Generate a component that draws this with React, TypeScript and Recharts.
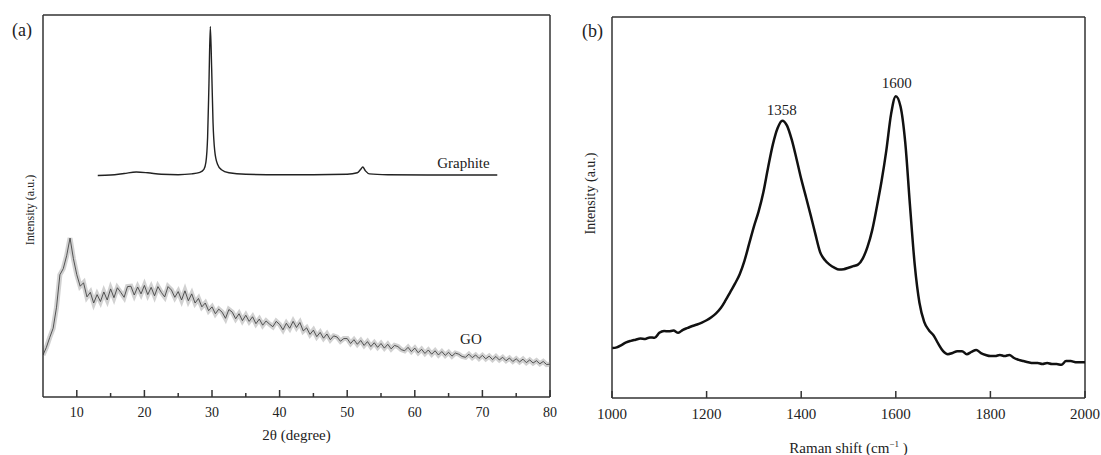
import { LineChart, Line, XAxis, YAxis, ReferenceLine, ReferenceDot } from "recharts";

const FONT = "'Liberation Serif', 'Times New Roman', serif";
const INK = "#222";
const AXIS = "#333";

// (a) XRD, 2θ in degrees
const xrdTicks = [10, 15, 20, 25, 30, 35, 40, 45, 50, 55, 60, 65, 70, 75, 80];
const goStart = 5;
const goStep = 0.5;
const goIntensity = [
  11.0, 13.0, 15.6, 18.0, 23.5, 32.0, 33.6, 37.0, 41.6, 36.2,
  32.0, 29.0, 29.9, 26.2, 27.4, 24.6, 26.8, 25.0, 27.5, 25.4,
  28.3, 26.0, 28.6, 27.4, 26.1, 28.9, 29.0, 26.7, 28.8, 27.0,
  29.2, 26.8, 28.7, 26.5, 28.9, 27.4, 26.2, 28.9, 28.0, 26.1,
  27.6, 25.4, 27.8, 25.2, 27.0, 24.6, 25.8, 23.6, 24.6, 22.6,
  23.6, 21.8, 23.0, 22.2, 20.6, 22.9, 22.2, 20.5, 21.8, 20.0,
  21.4, 19.8, 21.0, 19.2, 20.4, 18.8, 19.9, 19.1, 18.4, 19.8,
  19.0, 17.6, 19.3, 18.0, 19.8, 18.2, 19.5, 17.3, 18.1, 16.4,
  17.5, 15.8, 16.9, 15.4, 16.5, 15.0, 16.0, 15.7, 14.6, 15.3,
  15.3, 14.0, 15.0, 13.8, 14.8, 13.5, 14.5, 13.2, 14.2, 13.0,
  14.0, 12.8, 13.8, 12.6, 13.5, 13.2, 12.4, 12.1, 13.0, 11.9,
  12.8, 11.6, 12.5, 11.4, 12.3, 11.2, 12.1, 11.0, 11.9, 10.9,
  11.7, 10.7, 11.5, 11.2, 10.6, 10.4, 11.2, 10.3, 11.0, 10.1,
  10.9, 10.0, 10.7, 9.8, 10.6, 9.7, 10.4, 9.5, 10.2, 9.3,
  10.0, 9.2, 9.9, 9.0, 9.7, 8.9, 9.5, 8.7, 9.3, 8.5,
  8.6,
];
const graphiteAngle = [
  13.1, 15, 17, 18.8, 20.5, 22.5, 25, 27, 28.2, 28.8, 29.1, 29.35, 29.55, 29.75,
  29.95, 30.15, 30.4, 30.8, 31.4, 32.5, 35, 40, 45, 50, 51.5, 52.0, 52.3, 52.7,
  53.3, 56, 62, 68, 72.2,
];
const graphiteIntensity = [
  58.0, 58.1, 58.5, 58.9, 58.7, 58.3, 58.2, 58.4, 58.8, 59.6, 61.5, 68, 82, 97,
  86, 72, 64.5, 61, 59.5, 58.7, 58.3, 58.2, 58.2, 58.3, 58.7, 59.6, 60.2, 59.2,
  58.4, 58.2, 58.1, 58.1, 58.1,
];

// (b) Raman, shift in cm-1
const ramanTicks = [1000, 1200, 1400, 1600, 1800, 2000];
const ramanStart = 1000;
const ramanStep = 10;
const ramanIntensity = [
  13.1, 13.3, 13.9, 14.6, 15.0, 15.3, 15.6, 15.5, 15.9, 15.8,
  17.1, 17.6, 17.5, 17.7, 17.1, 17.9, 18.4, 18.9, 19.3, 19.8,
  20.4, 21.2, 22.2, 23.6, 25.6, 27.8, 30.0, 32.5, 36.0, 40.5,
  45.0, 49.0, 54.0, 60.5, 66.5, 70.8, 72.8, 71.5, 67.8, 62.8,
  57.5, 52.8, 48.0, 43.0, 38.3, 36.2, 35.0, 34.2, 33.7, 33.8,
  34.2, 34.6, 35.0, 36.6, 39.6, 44.0, 50.2, 57.0, 65.0, 74.5,
  79.2, 76.5, 67.0, 50.5, 35.0, 25.0, 20.0, 17.8, 16.4, 14.2,
  12.3, 11.5, 11.8, 12.3, 12.3, 11.5, 12.1, 12.6, 11.8, 11.3,
  11.0, 11.0, 11.3, 11.0, 11.3, 10.5, 10.0, 9.7, 9.4, 9.2,
  9.2, 8.9, 9.2, 8.9, 8.9, 8.7, 9.7, 9.7, 9.4, 9.4,
  9.4,
];

const goData = goIntensity.map((y, i) => ({ x: goStart + i * goStep, y }));
const graphiteData = graphiteAngle.map((x, i) => ({ x, y: graphiteIntensity[i] }));
const ramanData = ramanIntensity.map((y, i) => ({ x: ramanStart + i * ramanStep, y }));

const serif = { fontFamily: FONT };

function XrdTick({ x, y, payload }: any) {
  const major = payload.value % 10 === 0;
  return (
    <g>
      <line x1={x} x2={x} y1={y} y2={y - (major ? 7 : 4)} stroke={AXIS} strokeWidth={1.5} />
      {major && (
        <text x={x} y={y + 20} textAnchor="middle" fontSize={14} fill={INK} style={serif}>
          {payload.value}
        </text>
      )}
    </g>
  );
}

function RamanTick({ x, y, payload }: any) {
  return (
    <g>
      <line x1={x} x2={x} y1={y} y2={y - 7} stroke={AXIS} strokeWidth={1.5} />
      <text x={x} y={y + 21} textAnchor="middle" fontSize={15} fill={INK} style={serif}>
        {payload.value}
      </text>
    </g>
  );
}

// rotated y title, placed relative to the plot's left edge
const yTitle = (dx: number, dy: number, size: number) => (props: any) => {
  const vb = props.viewBox;
  const cx = vb.x + vb.width + dx;
  const cy = vb.y + vb.height / 2 + dy;
  return (
    <text
      x={cx}
      y={cy}
      transform={`rotate(-90 ${cx} ${cy})`}
      textAnchor="middle"
      dominantBaseline="central"
      fontSize={size}
      fill={INK}
      style={serif}
    >
      Intensity (a.u.)
    </text>
  );
};

const xrdTitle = (props: any) => {
  const vb = props.viewBox;
  return (
    <text x={vb.x + vb.width / 2} y={vb.y + 43} textAnchor="middle" fontSize={15} fill={INK} style={serif}>
      2θ (degree)
    </text>
  );
};

const ramanTitle = (props: any) => {
  const vb = props.viewBox;
  return (
    <text x={vb.x + vb.width / 2} y={vb.y + 55} textAnchor="middle" fontSize={15} fill={INK} style={serif}>
      Raman shift (cm
      <tspan dy={-6} fontSize={9}>−1</tspan>
      <tspan dy={6}> )</tspan>
    </text>
  );
};

const note = (value: string) => ({
  value,
  position: "center" as const,
  fontSize: 15,
  fill: INK,
  style: serif,
});

export default function App() {
  return (
    <div
      style={{
        position: "absolute",
        left: 0,
        top: 0,
        width: 1101,
        height: 455,
        background: "#fff",
        fontFamily: FONT,
        color: INK,
      }}
    >
      <div style={{ position: "absolute", left: 0, top: 0 }}>
        <LineChart width={560} height={455} margin={{ top: 15, right: 10, bottom: 28, left: 23 }}>
          <XAxis
            dataKey="x"
            type="number"
            domain={[5, 80]}
            ticks={xrdTicks}
            interval={0}
            height={30}
            tickSize={0}
            tickMargin={0}
            tickLine={false}
            tick={<XrdTick />}
            axisLine={{ stroke: AXIS, strokeWidth: 1.5 }}
            label={xrdTitle}
            allowDataOverflow
          />
          <YAxis
            type="number"
            domain={[0, 100]}
            width={20}
            tick={false}
            tickLine={false}
            axisLine={{ stroke: AXIS, strokeWidth: 1.5 }}
            label={yTitle(-13, 4, 12)}
            allowDataOverflow
          />
          <ReferenceLine y={100} stroke={AXIS} strokeWidth={1.5} />
          <ReferenceLine x={80} stroke={AXIS} strokeWidth={1.5} />
          <Line
            data={goData}
            dataKey="y"
            type="linear"
            stroke="#999"
            strokeOpacity={0.45}
            strokeWidth={5}
            dot={false}
            isAnimationActive={false}
          />
          <Line
            data={goData}
            dataKey="y"
            type="linear"
            stroke="#444"
            strokeWidth={0.9}
            dot={false}
            isAnimationActive={false}
          />
          <Line
            data={graphiteData}
            dataKey="y"
            type="monotone"
            stroke={INK}
            strokeWidth={1.4}
            dot={false}
            isAnimationActive={false}
          />
          <ReferenceDot x={67.2} y={61.3} r={0} fill="none" stroke="none" label={note("Graphite")} />
          <ReferenceDot x={68.3} y={15.2} r={0} fill="none" stroke="none" label={note("GO")} />
        </LineChart>
      </div>

      <div style={{ position: "absolute", left: 570, top: 0 }}>
        <LineChart width={531} height={455} margin={{ top: 17, right: 16, bottom: 27, left: 22 }}>
          <XAxis
            dataKey="x"
            type="number"
            domain={[1000, 2000]}
            ticks={ramanTicks}
            interval={0}
            height={30}
            tickSize={0}
            tickMargin={0}
            tickLine={false}
            tick={<RamanTick />}
            axisLine={{ stroke: AXIS, strokeWidth: 1.5 }}
            label={ramanTitle}
            allowDataOverflow
          />
          <YAxis
            type="number"
            domain={[0, 100]}
            width={20}
            tick={false}
            tickLine={false}
            axisLine={{ stroke: AXIS, strokeWidth: 1.5 }}
            label={yTitle(-22, -14, 14)}
            allowDataOverflow
          />
          <ReferenceLine y={100} stroke={AXIS} strokeWidth={1.5} />
          <ReferenceLine x={2000} stroke={AXIS} strokeWidth={1.5} />
          <Line
            data={ramanData}
            dataKey="y"
            type="monotone"
            stroke="#111"
            strokeWidth={2.5}
            dot={false}
            isAnimationActive={false}
          />
          <ReferenceDot x={1359} y={75.6} r={0} fill="none" stroke="none" label={note("1358")} />
          <ReferenceDot x={1602} y={82.7} r={0} fill="none" stroke="none" label={note("1600")} />
        </LineChart>
      </div>

      <div style={{ position: "absolute", left: 12, top: 21, fontSize: 18, lineHeight: "18px" }}>(a)</div>
      <div style={{ position: "absolute", left: 582, top: 22, fontSize: 18, lineHeight: "18px" }}>(b)</div>
    </div>
  );
}
